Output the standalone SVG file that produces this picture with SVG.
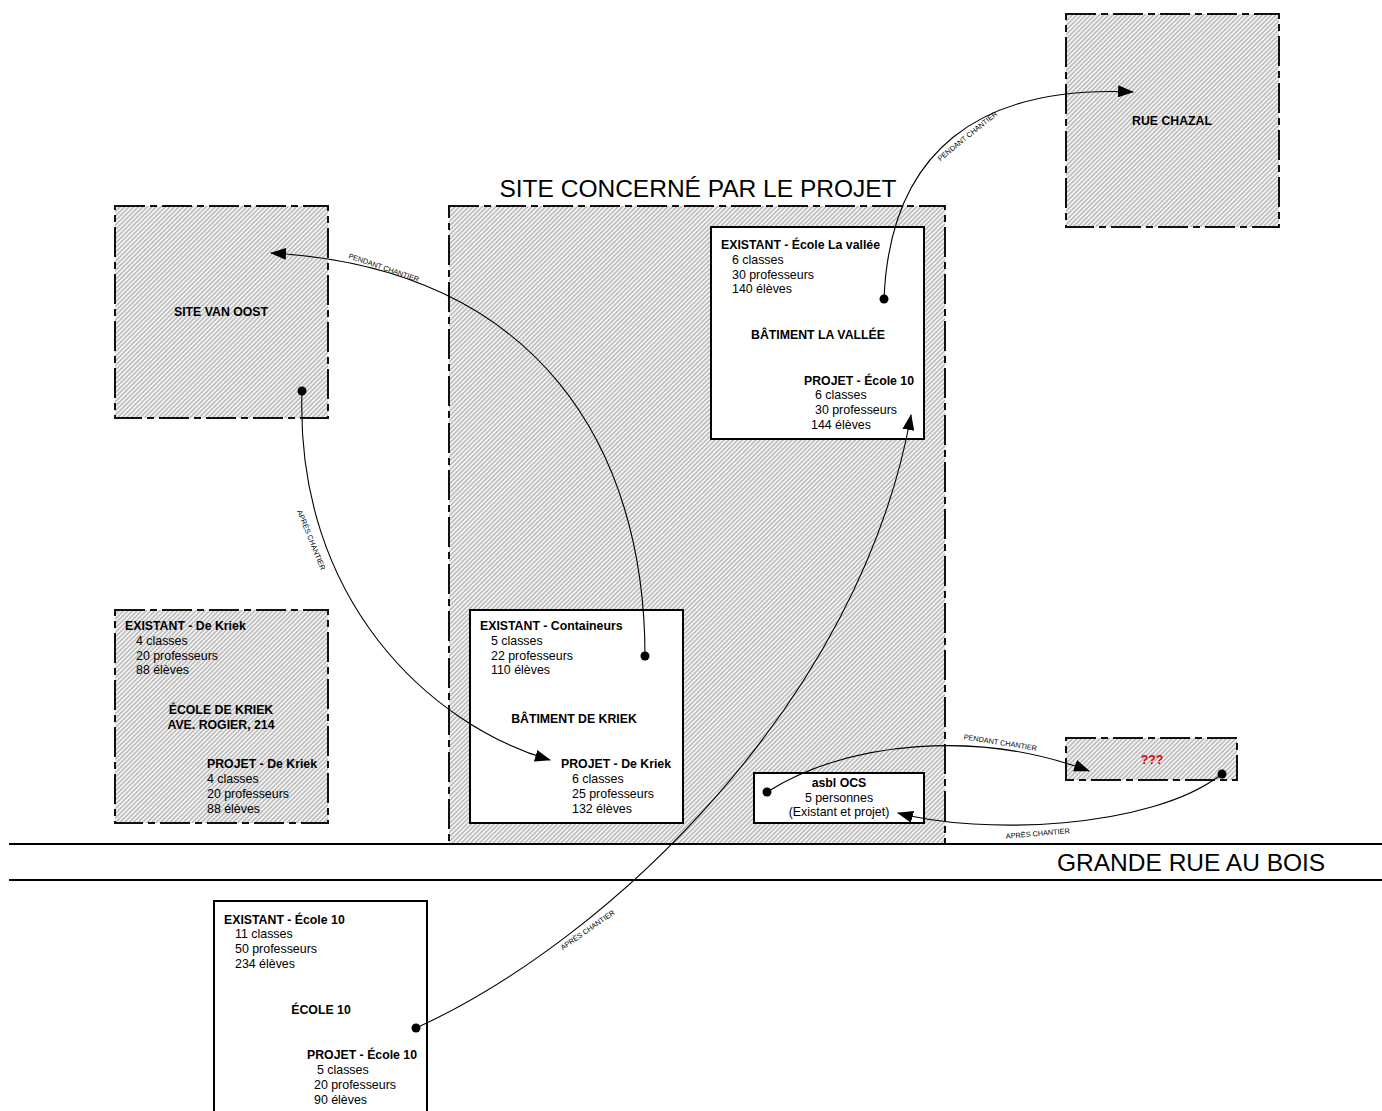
<svg xmlns="http://www.w3.org/2000/svg" width="1382" height="1111" viewBox="0 0 1382 1111">
<style>
text{font-family:"Liberation Sans",Arial,sans-serif;fill:#000}
.b{font-size:12.3px;font-weight:bold}
.r{font-size:12.4px}
.c{text-anchor:middle}
.big{font-size:24.5px}
.lbl{font-size:7.3px;text-anchor:middle}
.hz{fill:url(#hatch);stroke:#111;stroke-width:2;stroke-dasharray:30 5 7 5}
.wb{fill:#fff;stroke:#000;stroke-width:2}
.road{stroke:#000;stroke-width:2}
.con{fill:none;stroke:#000;stroke-width:1.1}
.dot{fill:#000}
</style>
<defs>
<pattern id="hatch" width="3.2" height="3.2" patternUnits="userSpaceOnUse" patternTransform="rotate(45)">
<rect width="3.2" height="3.2" fill="#f3f3f3"/>
<line x1="0.8" y1="0" x2="0.8" y2="3.2" stroke="#a6a6a6" stroke-width="1.1"/>
</pattern>
<marker id="arr" markerWidth="16" markerHeight="12" refX="15" refY="6" orient="auto" markerUnits="userSpaceOnUse">
<path d="M0,0 L16,6 L0,12 z" fill="#000"/>
</marker>
</defs>
<rect width="1382" height="1111" fill="#fff"/>

<g id="site-projet">
<rect class="hz" x="449" y="206" width="496" height="638"/>
<text class="big c" x="698" y="197">SITE CONCERNÉ PAR LE PROJET</text>
</g>

<g id="road">
<line class="road" x1="9" y1="844" x2="1382" y2="844"/>
<line class="road" x1="9" y1="880" x2="1382" y2="880"/>
<text class="big" x="1057" y="871">GRANDE RUE AU BOIS</text>
</g>

<g id="site-van-oost">
<rect class="hz" x="115" y="206" width="213" height="212"/>
<text class="b c" x="221" y="316">SITE VAN OOST</text>
</g>

<g id="rue-chazal">
<rect class="hz" x="1066" y="14" width="213" height="213"/>
<text class="b c" x="1172" y="125">RUE CHAZAL</text>
</g>

<g id="ecole-de-kriek">
<rect class="hz" x="115" y="610" width="213" height="213"/>
<text class="b" x="125" y="630">EXISTANT - De Kriek</text>
<text class="r" x="136" y="645">4 classes</text>
<text class="r" x="136" y="660">20 professeurs</text>
<text class="r" x="136" y="674">88 élèves</text>
<text class="b c" x="221" y="714">ÉCOLE DE KRIEK</text>
<text class="b c" x="221" y="729">AVE. ROGIER, 214</text>
<text class="b" x="207" y="768">PROJET - De Kriek</text>
<text class="r" x="207" y="783">4 classes</text>
<text class="r" x="207" y="798">20 professeurs</text>
<text class="r" x="207" y="813">88 élèves</text>
</g>

<g id="inconnu">
<rect class="hz" x="1066" y="738" width="171" height="42"/>
<text class="b c" x="1152" y="764" style="fill:#e00000">???</text>
</g>

<g id="batiment-la-vallee">
<rect class="wb" x="711" y="227" width="213" height="212"/>
<text class="b" x="721" y="249">EXISTANT - École La vallée</text>
<text class="r" x="732" y="264">6 classes</text>
<text class="r" x="732" y="279">30 professeurs</text>
<text class="r" x="732" y="293">140 élèves</text>
<text class="b c" x="818" y="339">BÂTIMENT LA VALLÉE</text>
<text class="b" x="804" y="385">PROJET - École 10</text>
<text class="r" x="815" y="399">6 classes</text>
<text class="r" x="815" y="414">30 professeurs</text>
<text class="r" x="811" y="429">144 élèves</text>
</g>

<g id="batiment-de-kriek">
<rect class="wb" x="470" y="610" width="213" height="213"/>
<text class="b" x="480" y="630">EXISTANT - Containeurs</text>
<text class="r" x="491" y="645">5 classes</text>
<text class="r" x="491" y="660">22 professeurs</text>
<text class="r" x="491" y="674">110 élèves</text>
<text class="b c" x="574" y="723">BÂTIMENT DE KRIEK</text>
<text class="b" x="561" y="768">PROJET - De Kriek</text>
<text class="r" x="572" y="783">6 classes</text>
<text class="r" x="572" y="798">25 professeurs</text>
<text class="r" x="572" y="813">132 élèves</text>
</g>

<g id="asbl-ocs">
<rect class="wb" x="754" y="773" width="170" height="50"/>
<text class="b c" x="839" y="787">asbl OCS</text>
<text class="r c" x="839" y="802">5 personnes</text>
<text class="r c" x="839" y="816">(Existant et projet)</text>
</g>

<g id="ecole-10">
<rect class="wb" x="214" y="901" width="213" height="215"/>
<text class="b" x="224" y="924">EXISTANT - École 10</text>
<text class="r" x="235" y="938">11 classes</text>
<text class="r" x="235" y="953">50 professeurs</text>
<text class="r" x="235" y="968">234 élèves</text>
<text class="b c" x="321" y="1014">ÉCOLE 10</text>
<text class="b" x="307" y="1059">PROJET - École 10</text>
<text class="r" x="317" y="1074">5 classes</text>
<text class="r" x="314" y="1089">20 professeurs</text>
<text class="r" x="314" y="1104">90 élèves</text>
</g>

<g id="connectors">
<path class="con" d="M645,656 C645,450 540,268 271,253" marker-end="url(#arr)"/>
<circle class="dot" cx="645" cy="656" r="4.5"/>
<text class="lbl" transform="translate(383,270) rotate(19)">PENDANT CHANTIER</text>

<path class="con" d="M302,391 C295,600 430,725 550,760" marker-end="url(#arr)"/>
<circle class="dot" cx="302" cy="391" r="4.5"/>
<text class="lbl" transform="translate(309,541) rotate(68)">APRÈS CHANTIER</text>

<path class="con" d="M884,299 C890,150 980,85 1133,92" marker-end="url(#arr)"/>
<circle class="dot" cx="884" cy="299" r="4.5"/>
<text class="lbl" transform="translate(969,138) rotate(-39)">PENDANT CHANTIER</text>

<path class="con" d="M416,1028 C610,940 860,700 911,415" marker-end="url(#arr)"/>
<circle class="dot" cx="416" cy="1028" r="4.5"/>
<text class="lbl" transform="translate(589,932) rotate(-35)">APRÈS CHANTIER</text>

<path class="con" d="M767,792 C850,740 980,730 1089,771" marker-end="url(#arr)"/>
<circle class="dot" cx="767" cy="792" r="4.5"/>
<text class="lbl" transform="translate(1000,745) rotate(9)">PENDANT CHANTIER</text>

<path class="con" d="M1222,774 C1150,830 980,835 898,813" marker-end="url(#arr)"/>
<circle class="dot" cx="1222" cy="774" r="4.5"/>
<text class="lbl" transform="translate(1038,836) rotate(-5)">APRÈS CHANTIER</text>
</g>
</svg>
